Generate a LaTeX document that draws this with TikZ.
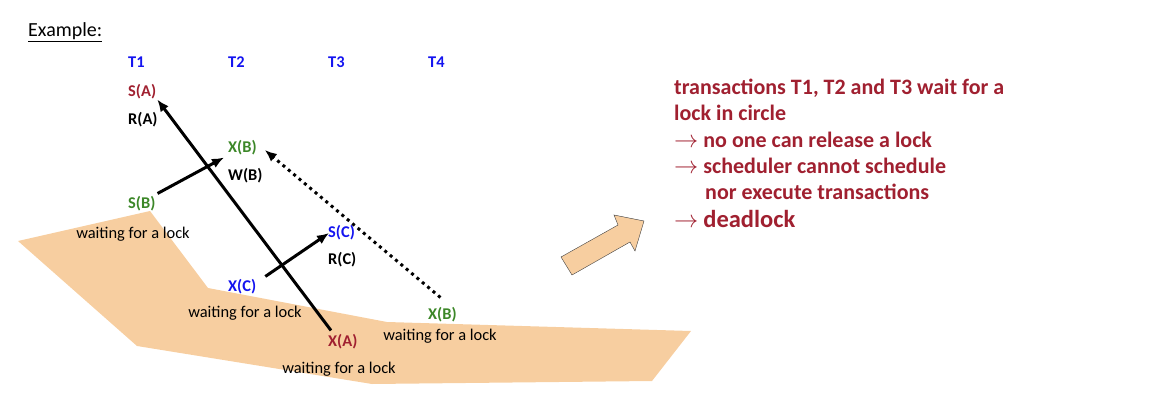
\documentclass[tikz,border=0pt]{standalone}
\usepackage{fix-cm}
\usepackage{fontspec}
\setmainfont{Carlito}
\usetikzlibrary{arrows.meta}
\definecolor{lockred}{RGB}{160,32,48}
\definecolor{lockgreen}{RGB}{60,135,40}
\definecolor{lockblue}{RGB}{20,20,240}
\definecolor{peach}{RGB}{247,206,160}
\newcommand{\thento}{\scalebox{1.1}{$\rightarrow$}}
\begin{document}
\begin{tikzpicture}[x=1pt,y=-1pt,
    op/.style={anchor=west,inner sep=0pt,font=\fontsize{16.4}{19}\selectfont\bfseries},
    waitlbl/.style={inner sep=0pt,font=\fontsize{16.4}{19}\selectfont},
    arr/.style={line width=3pt,-{Latex[length=12pt,width=10pt]}},
    note/.style={anchor=base west,inner sep=0pt,text=lockred,font=\fontsize{22}{26}\selectfont\bfseries}]
    \useasboundingbox (0,0) rectangle (1170,412);
    \fill[peach] (18,241) -- (150,211) -- (208,288) -- (387,322) -- (691,331) -- (652,381) -- (372,384) -- (137,346) -- cycle;
    \node at (28,37) [anchor=base west,inner sep=0pt,font=\fontsize{20}{24}\selectfont] (ex) {\underline{Example:}};
    % transactions
    \node at (128,62) [op,lockblue] (t1) {T1};
    \node at (228,62) [op,lockblue] (t2) {T2};
    \node at (328,62) [op,lockblue] (t3) {T3};
    \node at (428,62) [op,lockblue] (t4) {T4};
    % schedule
    \node at (128,92) [op,lockred] (sa) {S(A)};
    \node at (128,120) [op] (ra) {R(A)};
    \node at (228,148) [op,lockgreen] (xb) {X(B)};
    \node at (228,176) [op] (wb) {W(B)};
    \node at (128,204) [op,lockgreen] (sb) {S(B)};
    \node at (133,234) [waitlbl] (w1) {waiting for a lock};
    \node at (328,233) [op,lockblue] (sc) {S(C)};
    \node at (328,260) [op] (rc) {R(C)};
    \node at (228,287) [op,lockblue] (xc) {X(C)};
    \node at (245,313) [waitlbl] (w2) {waiting for a lock};
    \node at (428,315) [op,lockgreen] (xbb) {X(B)};
    \node at (440,336) [waitlbl] (w3) {waiting for a lock};
    \node at (328,342) [op,lockred] (xa) {X(A)};
    \node at (339,369) [waitlbl] (w4) {waiting for a lock};
    % waits-for
    \draw[arr] ([shift={(3,-4)}]xa.north west) -- ([shift={(1,0)}]sa.south east);
    \draw[arr] ([shift={(2,-3)}]sb.north east) -- ([shift={(-4,2)}]xb.south west);
    \draw[arr] ([shift={(9,-3)}]xc.north east) -- ([shift={(1,0)}]sc.west);
    \draw[line width=3pt,dash pattern=on 3pt off 4pt,-{Latex[length=12pt,width=10pt]}] ([shift={(-2,-10)}]xbb.north) -- ([shift={(8,2)}]xb.east);
    \draw[draw=black!75,fill=peach] (561,257) -- (618,225) -- (614,215) -- (644,221) -- (635,251) -- (630,242) -- (572,275) -- cycle;
    % conclusion
    \node at (674,95) [note] (l1) {transactions T1, T2 and T3 wait for a};
    \node at (674,121) [note] (l2) {lock in circle};
    \node at (674,147) [note] (l3) {\thento{} no one can release a lock};
    \node at (674,173) [note] (l4) {\thento{} scheduler cannot schedule};
    \node at (705,199) [note] (l5) {nor execute transactions};
    \node at (674,227) [note] (l6) {\thento{} {\fontsize{24.5}{28}\selectfont deadlock}};
\end{tikzpicture}
\end{document}
